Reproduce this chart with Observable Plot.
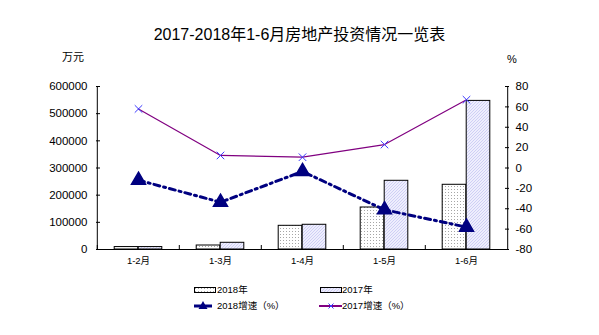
<!DOCTYPE html>
<html><head><meta charset="utf-8">
<script src="https://cdn.jsdelivr.net/npm/d3@7"></script>
<script src="https://cdn.jsdelivr.net/npm/@observablehq/plot@0.6"></script>
<style>
body{margin:0;background:#fff;font-family:"Liberation Sans","Noto Sans CJK SC",sans-serif;color:#000;}
#wrap{position:relative;width:599px;height:335px;overflow:hidden;}
#head{position:relative;height:68px;}
#title{position:absolute;left:0;width:599px;top:25px;text-align:center;font-size:16px;line-height:20px;white-space:nowrap;}
.unit{position:absolute;font-size:11px;line-height:14px;white-space:nowrap;}
#chart{height:210px;}
#legend{position:relative;height:57px;}
.lt{position:absolute;font-size:9.5px;line-height:12px;white-space:nowrap;}
.sw{position:absolute;overflow:visible;}
</style></head>
<body>
<svg width="0" height="0" style="position:absolute">
 <defs>
  <pattern id="dots" width="3" height="3" patternUnits="userSpaceOnUse">
   <rect width="3" height="3" fill="#ffffff"/>
   <rect x="1" y="1" width="1" height="1" fill="#a6a6a6"/>
  </pattern>
  <pattern id="hatch" width="3" height="3" patternUnits="userSpaceOnUse">
   <rect width="3" height="3" fill="#eeeefd"/>
   <path d="M-1,1 l2,-2 M0,3 l3,-3 M2,4 l2,-2" stroke="#c6c6f2" stroke-width="0.8"/>
  </pattern>
 </defs>
</svg>
<div id="wrap">
 <div id="head">
  <div id="title"></div>
  <div class="unit" id="uL" style="left:62px;top:50px"></div>
  <div class="unit" id="uR" style="left:507px;top:52px"></div>
 </div>
 <div id="chart"></div>
 <div id="legend"></div>
</div>
<script>
const titleText = "2017-2018年1-6月房地产投资情况一览表";
const leftUnit = "万元";
const rightUnit = "%";
const categories = ["1-2月","1-3月","1-4月","1-5月","1-6月"];
const invest2018 = [9000, 14700, 87200, 154600, 238200];
const invest2017 = [9000, 24700, 91000, 252900, 547000];
const growth2018 = [-12, -33.6, -3.4, -41, -58];
const growth2017 = [58, 12.3, 10.6, 23, 67];
const leftTicks = [0,100000,200000,300000,400000,500000,600000];
const rightTicks = [-80,-60,-40,-20,0,20,40,60,80];
const seriesNames = ["2018年","2017年","2018增速（%）","2017增速（%）"];

document.getElementById("title").textContent = titleText;
document.getElementById("uL").textContent = leftUnit;
document.getElementById("uR").textContent = rightUnit;

const leftMax = leftTicks[leftTicks.length-1];
const pMin = rightTicks[0], pMax = rightTicks[rightTicks.length-1];
const toY = v => (v - pMin) / (pMax - pMin) * leftMax;
const fromY = y => y / leftMax * (pMax - pMin) + pMin;

const bars18 = categories.map((c,i)=>({cat:c, v:invest2018[i]}));
const bars17 = categories.map((c,i)=>({cat:c, v:invest2017[i]}));
const g18 = categories.map((c,i)=>({cat:c, v:toY(growth2018[i])}));
const g17 = categories.map((c,i)=>({cat:c, v:toY(growth2017[i])}));

const W = 599, H = 210, mT = 18, mB = 29, mL = 96, mR = 91;
const band = (W - mL - mR) / categories.length;
const barW = 24;

const chart = Plot.plot({
  width: W, height: H,
  marginTop: mT, marginBottom: mB, marginLeft: mL, marginRight: mR,
  style: {fontFamily: '"Liberation Sans","Noto Sans CJK SC",sans-serif', fontSize: "11.5px", color: "#000", background: "#fff"},
  x: {type: "band", domain: categories, padding: 0},
  y: {domain: [0, leftMax]},
  marks: [
    Plot.barY(bars18, {x: "cat", y: "v", fill: "url(#dots)", stroke: "#000", strokeWidth: 1, insetLeft: band/2 - barW, insetRight: band/2}),
    Plot.barY(bars17, {x: "cat", y: "v", fill: "url(#hatch)", stroke: "#000", strokeWidth: 1, insetLeft: band/2, insetRight: band/2 - barW}),
    Plot.ruleY([0], {stroke: "#000"}),
    Plot.ruleX([categories[0]], {y1: 0, y2: leftMax, dx: -band/2, stroke: "#000"}),
    Plot.ruleX([categories[categories.length-1]], {y1: 0, y2: leftMax, dx: band/2, stroke: "#000"}),
    Plot.line(g17, {x: "cat", y: "v", stroke: "#800080", strokeWidth: 1.2}),
    Plot.dot(g17, {x: "cat", y: "v", symbol: "times", stroke: "#3a3aff", strokeWidth: 1, r: 3.5}),
    Plot.line(g18, {x: "cat", y: "v", stroke: "#000080", strokeWidth: 3, strokeDasharray: "6,4,2,4"}),
    Plot.dot(g18, {x: "cat", y: "v", symbol: "triangle", fill: "#000080", stroke: "#000080", r: 5.2}),
    Plot.axisY({anchor: "left", ticks: leftTicks, tickSize: 0, tickPadding: 9, tickFormat: d => String(d), label: null}),
    Plot.axisY({anchor: "left", ticks: leftTicks, tickSize: 4, fill: "none", dx: 4, label: null}),
    Plot.axisY({anchor: "right", ticks: rightTicks.map(toY), tickSize: 0, tickPadding: 7, tickFormat: d => String(Math.round(fromY(d))), label: null}),
    Plot.axisY({anchor: "right", ticks: rightTicks.map(toY), tickSize: 4, fill: "none", dx: -4, label: null}),
    Plot.axisX({tickSize: 0, tickPadding: 8, fontSize: 9.5, label: null}),
    Plot.axisX({tickSize: 4, fill: "none", dx: -band/2, dy: -4, label: null})
  ]
});
document.getElementById("chart").appendChild(chart);

// legend
const lg = document.getElementById("legend");
const NS = "http://www.w3.org/2000/svg";
function sw(left, top, w, h, inner){
  const s = document.createElementNS(NS, "svg");
  s.setAttribute("class","sw"); s.setAttribute("width", w); s.setAttribute("height", h);
  s.style.left = left + "px"; s.style.top = top + "px";
  s.innerHTML = inner; lg.appendChild(s);
}
function lt(left, top, txt){
  const d = document.createElement("div"); d.className = "lt";
  d.style.left = left + "px"; d.style.top = top + "px"; d.textContent = txt; lg.appendChild(d);
}
sw(194, 9, 22, 7, '<rect x="0.5" y="0.5" width="21" height="5" fill="url(#dots)" stroke="#000"/>');
lt(217, 6, seriesNames[0]);
sw(320, 9, 22, 7, '<rect x="0.5" y="0.5" width="21" height="5" fill="url(#hatch)" stroke="#000"/>');
lt(342, 6, seriesNames[1]);
sw(194, 21, 20, 14, '<line x1="0" y1="7" x2="18" y2="7" stroke="#000080" stroke-width="3"/><path d="M9,2 L13.5,10 L4.5,10 Z" fill="#000080"/>');
lt(217, 22, seriesNames[2]);
sw(319, 21, 23, 14, '<line x1="0" y1="7" x2="23" y2="7" stroke="#800080" stroke-width="2"/><path d="M9.5,4.5 L14.5,9.5 M14.5,4.5 L9.5,9.5" stroke="#3a3aff" stroke-width="1"/>');
lt(342, 22, seriesNames[3]);
</script>
</body></html>
